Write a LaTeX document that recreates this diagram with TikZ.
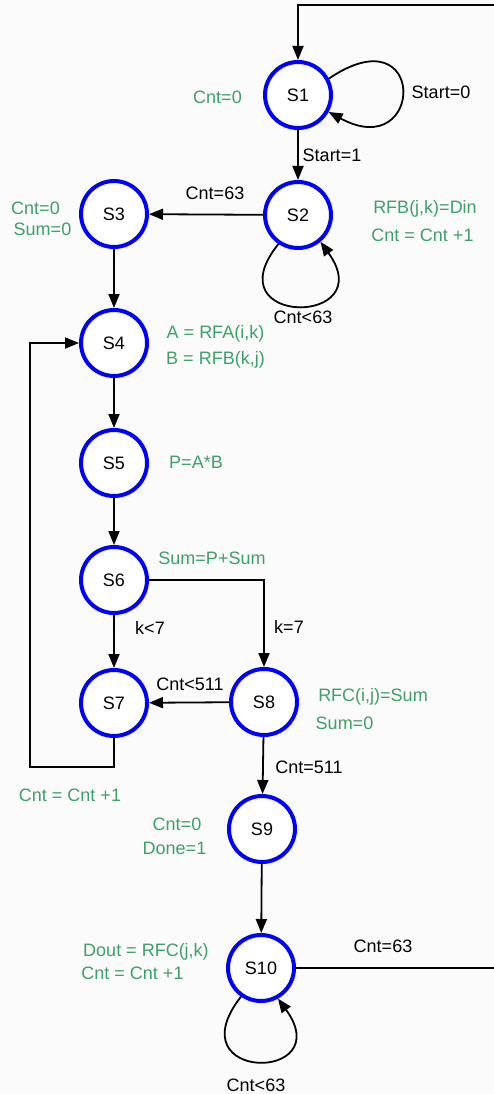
\documentclass[tikz,border=0pt]{standalone}
\usepackage{fontspec}
\setmainfont{Liberation Sans}
\usetikzlibrary{arrows.meta}
\definecolor{actgreen}{RGB}{61,160,102}
\definecolor{bgcol}{RGB}{251,251,251}
\definecolor{stateblue}{RGB}{0,0,255}
\begin{document}
\begin{tikzpicture}[x=1pt,y=-1pt,
  font=\fontsize{18}{21}\selectfont,
  statenode/.style={circle,draw=stateblue,line width=4pt,fill=white,minimum size=66pt,inner sep=0pt},
  conn/.style={draw=black,line width=1.8pt,line join=miter},
  arr/.style={-{Triangle[length=14pt,width=11pt]}},
  lbl/.style={anchor=base,inner sep=0pt,text=black},
  act/.style={anchor=base,inner sep=0pt,text=actgreen}]
\fill[bgcol] (0,0) rectangle (494,1094);
\useasboundingbox (0,0) rectangle (494,1094);

% states
\node[statenode] (S1) at (298,95) {S1};
\node[statenode] (S2) at (298,215) {S2};
\node[statenode] (S3) at (114,214) {S3};
\node[statenode] (S4) at (114,343) {S4};
\node[statenode] (S5) at (114,463) {S5};
\node[statenode] (S6) at (114,580) {S6};
\node[statenode] (S7) at (114,703) {S7};
\node[statenode] (S8) at (264,702) {S8};
\node[statenode] (S9) at (262,829) {S9};
\node[statenode] (S10) at (261,968) {S10};

\coordinate (tr) at (498,5);
\coordinate (bl) at (30,767);

% connectors
\draw[conn,arr] (S1.28) .. controls +(99,-67) and +(96,52) .. (S1.-29);
\draw[conn,arr] (S1) -- (S2);
\draw[conn,arr] (S2) -- (S3);
\draw[conn,arr] (S2.236) .. controls +(-67,83) and +(61,85) .. (S2.-50);
\draw[conn,arr] (S3) -- (S4);
\draw[conn,arr] (S4) -- (S5);
\draw[conn,arr] (S5) -- (S6);
\draw[conn,arr] (S6) -- (S7);
\draw[conn,arr] (S6) -| (S8);
\draw[conn,arr] (S8) -- (S7);
\draw[conn,arr] (S7) |- (bl) |- (S4);
\draw[conn,arr] (S8) -- (S9);
\draw[conn,arr] (S9) -- (S10);
\draw[conn,arr] (S10.235) .. controls +(-67,86) and +(61,84) .. (S10.-61);
\draw[conn,arr] (S10) -- (S10 -| tr) -- (tr) -- (tr -| S1) -- (S1);

% transition labels
\node[lbl] (lS0) at (441,98.5) {Start=0};
\node[lbl] (lS1) at (332,161.5) {Start=1};
\node[lbl] (l63a) at (215,199.5) {Cnt=63};
\node[lbl] (l63b) at (303,323.5) {Cnt<63};
\node[lbl] (lk1) at (150,634.5) {k<7};
\node[lbl] (lk2) at (289,633.5) {k=7};
\node[lbl] (l511a) at (190,690.5) {Cnt<511};
\node[lbl] (l511b) at (309,773.5) {Cnt=511};
\node[lbl] (l63c) at (383,952.5) {Cnt=63};
\node[lbl] (l63d) at (256,1091) {Cnt<63};

% actions
\node[act] (a1) at (217.5,103.5) {Cnt=0};
\node[act] (a2) at (425,213.5) {RFB(j,k)=Din};
\node[act] (a3) at (422.5,241.5) {Cnt = Cnt +1};
\node[act] (a4) at (35.5,214.5) {Cnt=0};
\node[act] (a5) at (42.5,235.5) {Sum=0};
\node[act] (a6) at (215.5,338.5) {A = RFA(i,k)};
\node[act] (a7) at (215.5,364.5) {B = RFB(k,j)};
\node[act] (a8) at (196,468.5) {P=A*B};
\node[act] (a9) at (212,564.5) {Sum=P+Sum};
\node[act] (a10) at (373,701.5) {RFC(i,j)=Sum};
\node[act] (a11) at (344.5,729.5) {Sum=0};
\node[act] (a12) at (70,801.5) {Cnt = Cnt +1};
\node[act] (a13) at (177,830.5) {Cnt=0};
\node[act] (a14) at (174.5,854.5) {Done=1};
\node[act] (a15) at (146,956.5) {Dout = RFC(j,k)};
\node[act] (a16) at (132.5,979.5) {Cnt = Cnt +1};
\end{tikzpicture}
\end{document}
